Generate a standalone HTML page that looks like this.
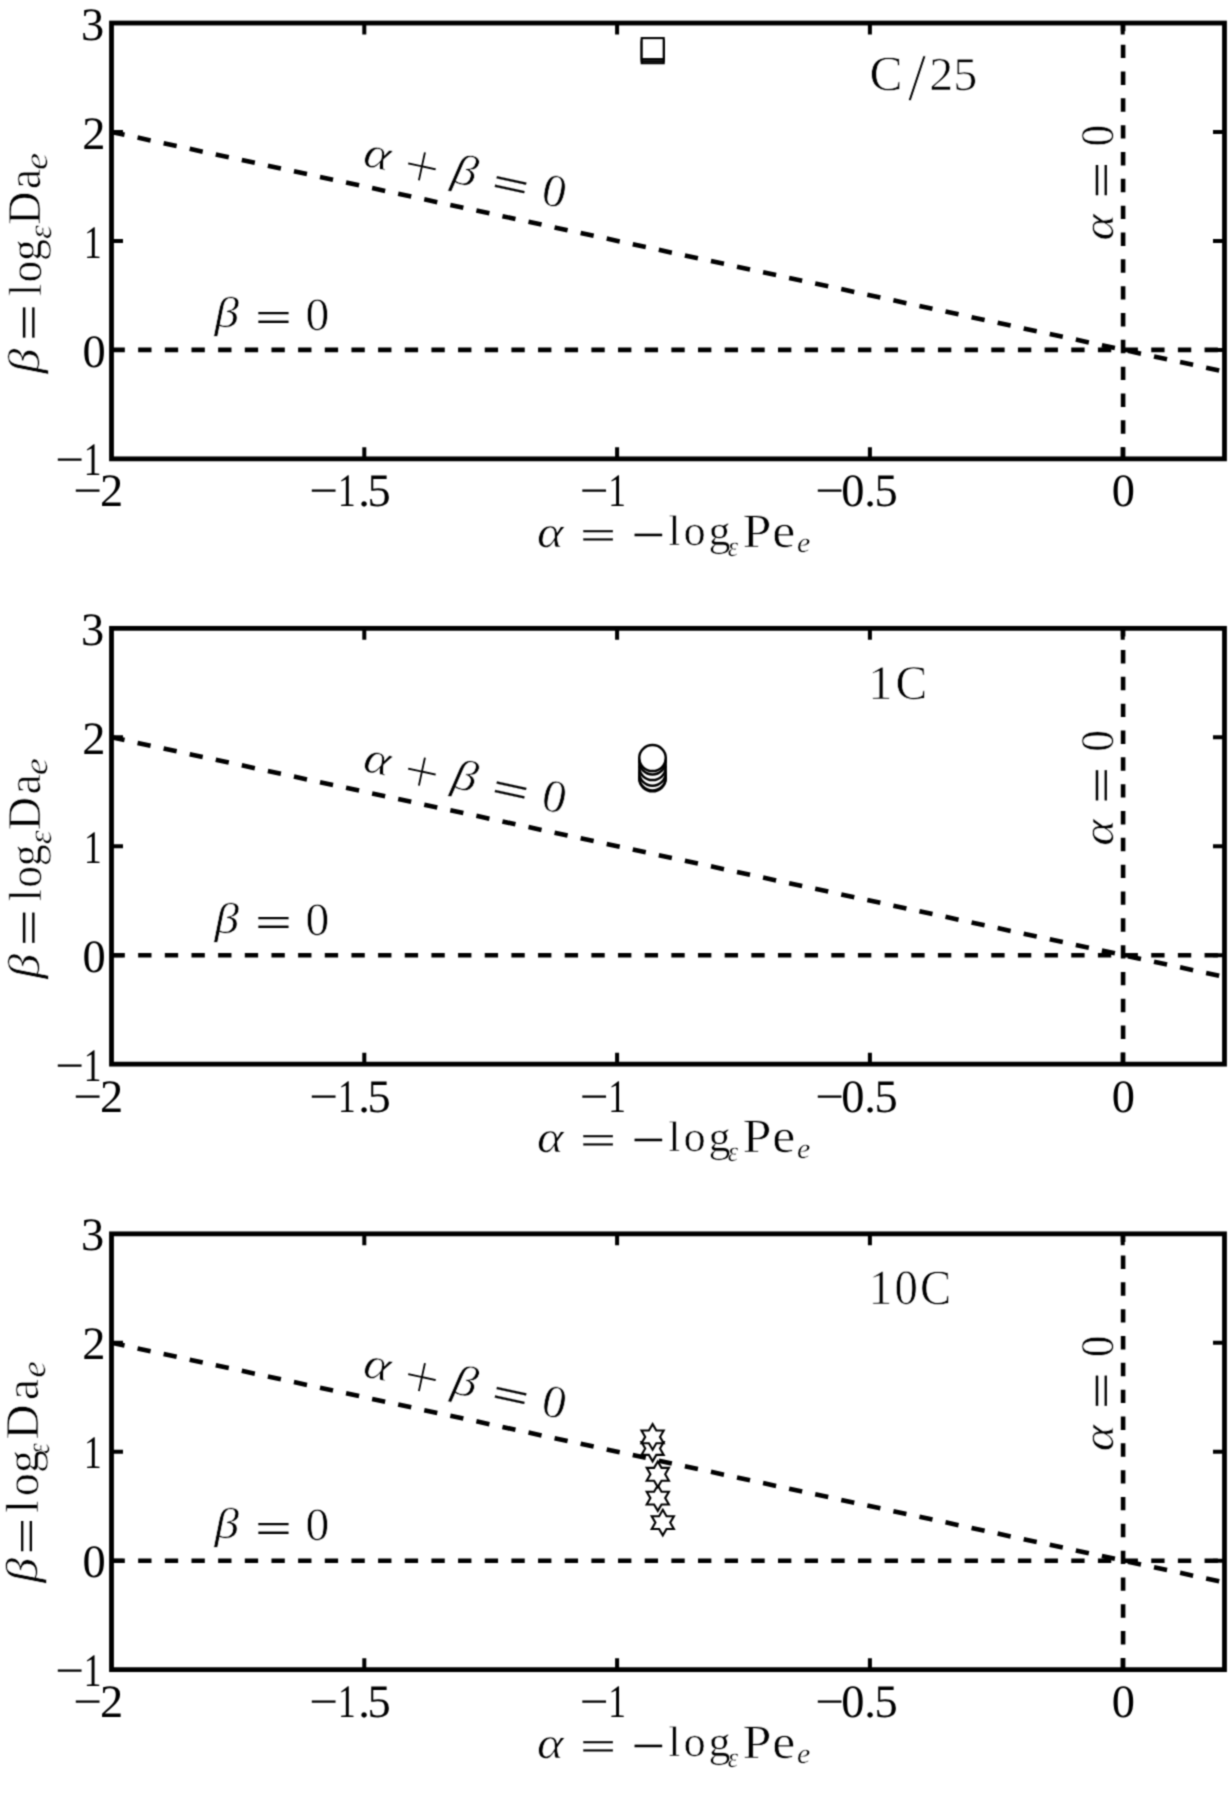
<!DOCTYPE html>
<html lang="en"><head><meta charset="utf-8"><title>Figure</title>
<style>
html,body{margin:0;padding:0;background:#fff;}
body{width:1230px;height:1800px;overflow:hidden;}
svg{display:block;}
text{white-space:pre;text-rendering:geometricPrecision;}
.cm text.op{stroke:#000;stroke-width:0.15px;}
.cm text.pl{stroke-width:0.8px;}
.cm text{stroke:#fff;stroke-width:0.55px;paint-order:fill stroke;vector-effect:non-scaling-stroke;}
</style></head><body>
<svg width="1230" height="1800" viewBox="0 0 1230 1800">
<defs><filter id="soft" x="0" y="0" width="1230" height="1800" filterUnits="userSpaceOnUse" color-interpolation-filters="sRGB"><feConvolveMatrix order="3" kernelMatrix="0.04 0.12 0.04 0.12 0.36 0.12 0.04 0.12 0.04" edgeMode="duplicate" preserveAlpha="true"/></filter></defs>
<g filter="url(#soft)">
<rect width="1230" height="1800" fill="#fff"/>
<g>
<g stroke="#000" stroke-width="4.6" fill="none" stroke-dasharray="13.33 13.33">
<path d="M111.5 349.9 H1224.5"/>
<path d="M111.5 132 L1224.5 371.63"/>
<path d="M1123.1 460.55 V23.05" stroke-dasharray="13.4 13.43"/>
</g>
<g stroke="#000" fill="#fff">
<rect x="641.7" y="42.2" width="22" height="21" stroke-width="2.1"/>
<rect x="641.7" y="40.2" width="22" height="21" stroke-width="2.1"/>
<rect x="641.7" y="38.1" width="22" height="21" stroke-width="2.1"/>
</g>
<g stroke="#000" fill="none">
<rect x="111.5" y="23.05" width="1113" height="435.8" stroke-width="4.8"/>
<path d="M364.3 458.85v-11.5M364.3 23.05v11.5M617.1 458.85v-11.5M617.1 23.05v11.5M869.9 458.85v-11.5M869.9 23.05v11.5M1122.7 458.85v-11.5M1122.7 23.05v11.5M111.5 132h11.5M1224.5 132h-11.5M111.5 240.95h11.5M1224.5 240.95h-11.5M111.5 349.9h11.5M1224.5 349.9h-11.5" stroke-width="4"/>
</g>
<g font-family="Liberation Serif, DejaVu Serif, serif" font-size="40" fill="#000">
<text transform="matrix(1.16 0 0 1.16 80.9 39.65)">3</text>
<text transform="matrix(1.16 0 0 1.16 82.16 148.6)">2</text>
<text transform="matrix(1.16 0 0 1.16 83.93 257.55)"><tspan textLength="15.2" lengthAdjust="spacingAndGlyphs">1</tspan></text>
<text transform="matrix(1.16 0 0 1.16 82.38 366.5)">0</text>
<text transform="matrix(1.16 0 0 1.16 55.25 475.45)" x="0 24.67"><tspan textLength="24.82" lengthAdjust="spacingAndGlyphs">−</tspan><tspan textLength="15.2" lengthAdjust="spacingAndGlyphs">1</tspan></text>
<text transform="matrix(1.16 0 0 1.16 73.35 506.25)" x="0 22.89"><tspan textLength="24.82" lengthAdjust="spacingAndGlyphs">−</tspan>2</text>
<text transform="matrix(1.16 0 0 1.16 309.15 506.25)" x="0 24.8 42.35 50.42"><tspan textLength="24.82" lengthAdjust="spacingAndGlyphs">−</tspan><tspan textLength="15.2" lengthAdjust="spacingAndGlyphs">1</tspan>.5</text>
<text transform="matrix(1.16 0 0 1.16 579.7 506.25)" x="0 24.54"><tspan textLength="24.82" lengthAdjust="spacingAndGlyphs">−</tspan><tspan textLength="15.2" lengthAdjust="spacingAndGlyphs">1</tspan></text>
<text transform="matrix(1.16 0 0 1.16 815.15 506.25)" x="0 22.56 42.35 51.28"><tspan textLength="24.82" lengthAdjust="spacingAndGlyphs">−</tspan>0.5</text>
<text transform="matrix(1.16 0 0 1.16 1111.78 506.25)">0</text>
<g class="cm">
<text transform="matrix(1.27 0 0 1.11 536.97 547.05)" font-style="italic">α</text>
<text transform="matrix(1.58 0 0 1.03 580.15 548.85)" class="op">=</text>
<text transform="matrix(1.47 0 0 1.2 631.76 551.16)" class="op">−</text>
<text transform="matrix(1.11 0 0 1.07 668.14 545.39)" x="0 13.76 36.4">log</text>
<text transform="matrix(0.66 0 0 0.71 727.71 555.72)" font-style="italic">ε</text>
<text transform="matrix(1.3 0 0 1.2 742.5 547.02)" x="0 22.85">Pe</text>
<text transform="matrix(0.75 0 0 0.71 797.01 552.41)" font-style="italic">e</text>
<text transform="matrix(0 -0.97 0.83 0 47.37 170.06)" font-style="italic">e</text>
<text transform="matrix(0 -1.15 1.18 0 39.63 224.83)" x="0 30.93">Da</text>
<text transform="matrix(0 -0.88 0.82 0 50.97 238.99)" font-style="italic">ε</text>
<text transform="matrix(0 -1.09 1.16 0 40.61 295.95)" x="0 12.42 32.04">log</text>
<text transform="matrix(0 -1.61 1.15 0 43.64 340.63)" class="op">=</text>
<text transform="matrix(0 -1.25 1.11 0 38.55 373.45)" font-style="italic">β</text>
<text transform="matrix(1.23 0 0 1.08 214.44 327.41)" font-style="italic">β</text>
<text transform="matrix(1.61 0 0 1.09 255.27 332.05)" class="op">=</text>
<text transform="matrix(1.19 0 0 1.16 305.52 329.64)">0</text>
<text transform="matrix(0 -1.08 1.17 0 1113.13 146.51)">0</text>
<text transform="matrix(0 -1.61 1.1 0 1116.03 198.22)" class="op">=</text>
<text transform="matrix(0 -1.26 1.09 0 1113.16 240.51)" font-style="italic">α</text>
<g transform="translate(464.2 174) rotate(12.15)">
<text transform="matrix(1.27 0 0 1.11 -101.93 12.9)" font-style="italic">α</text>
<text transform="matrix(1.58 0 0 1.61 -60.76 22.85)" class="pl">+</text>
<text transform="matrix(1.23 0 0 1.08 -11.91 10.66)" font-style="italic">β</text>
<text transform="matrix(1.61 0 0 1.09 29.47 15.1)" class="op">=</text>
<text transform="matrix(1.19 0 0 1.16 80.12 13.04)">0</text>
</g>
<text transform="matrix(1.24 0 0 1.23 869.51 89.51)">C</text>
<text transform="matrix(1.63 0 0 1.68 907.9 99.83)">/</text>
<text transform="matrix(1.2 0 0 1.18 929.33 89.53)" x="0 19.85">25</text>
</g>
</g>
</g>
<g>
<g stroke="#000" stroke-width="4.6" fill="none" stroke-dasharray="13.33 13.33">
<path d="M111.5 955.2 H1224.5"/>
<path d="M111.5 737.3 L1224.5 976.93"/>
<path d="M1123.1 1065.85 V628.35" stroke-dasharray="13.4 13.43"/>
</g>
<g stroke="#000" fill="#fff">
<ellipse cx="652.5" cy="778.3" rx="13.25" ry="13" stroke-width="2.5"/>
<ellipse cx="652.5" cy="777.4" rx="13.25" ry="13" stroke-width="2.5"/>
<ellipse cx="652.5" cy="772.7" rx="13.25" ry="13" stroke-width="2.5"/>
<ellipse cx="652.5" cy="767.1" rx="13.25" ry="13" stroke-width="2.5"/>
<ellipse cx="652.5" cy="761.5" rx="13.25" ry="13" stroke-width="2.5"/>
<ellipse cx="652.5" cy="758.1" rx="13.25" ry="13" stroke-width="2.5"/>
</g>
<g stroke="#000" fill="none">
<rect x="111.5" y="628.35" width="1113" height="435.8" stroke-width="4.8"/>
<path d="M364.3 1064.15v-11.5M364.3 628.35v11.5M617.1 1064.15v-11.5M617.1 628.35v11.5M869.9 1064.15v-11.5M869.9 628.35v11.5M1122.7 1064.15v-11.5M1122.7 628.35v11.5M111.5 737.3h11.5M1224.5 737.3h-11.5M111.5 846.25h11.5M1224.5 846.25h-11.5M111.5 955.2h11.5M1224.5 955.2h-11.5" stroke-width="4"/>
</g>
<g font-family="Liberation Serif, DejaVu Serif, serif" font-size="40" fill="#000">
<text transform="matrix(1.16 0 0 1.16 80.9 644.95)">3</text>
<text transform="matrix(1.16 0 0 1.16 82.16 753.9)">2</text>
<text transform="matrix(1.16 0 0 1.16 83.93 862.85)"><tspan textLength="15.2" lengthAdjust="spacingAndGlyphs">1</tspan></text>
<text transform="matrix(1.16 0 0 1.16 82.38 971.8)">0</text>
<text transform="matrix(1.16 0 0 1.16 55.25 1080.75)" x="0 24.67"><tspan textLength="24.82" lengthAdjust="spacingAndGlyphs">−</tspan><tspan textLength="15.2" lengthAdjust="spacingAndGlyphs">1</tspan></text>
<text transform="matrix(1.16 0 0 1.16 73.35 1111.55)" x="0 22.89"><tspan textLength="24.82" lengthAdjust="spacingAndGlyphs">−</tspan>2</text>
<text transform="matrix(1.16 0 0 1.16 309.15 1111.55)" x="0 24.8 42.35 50.42"><tspan textLength="24.82" lengthAdjust="spacingAndGlyphs">−</tspan><tspan textLength="15.2" lengthAdjust="spacingAndGlyphs">1</tspan>.5</text>
<text transform="matrix(1.16 0 0 1.16 579.7 1111.55)" x="0 24.54"><tspan textLength="24.82" lengthAdjust="spacingAndGlyphs">−</tspan><tspan textLength="15.2" lengthAdjust="spacingAndGlyphs">1</tspan></text>
<text transform="matrix(1.16 0 0 1.16 815.15 1111.55)" x="0 22.56 42.35 51.28"><tspan textLength="24.82" lengthAdjust="spacingAndGlyphs">−</tspan>0.5</text>
<text transform="matrix(1.16 0 0 1.16 1111.78 1111.55)">0</text>
<g class="cm">
<text transform="matrix(1.27 0 0 1.11 536.97 1152.35)" font-style="italic">α</text>
<text transform="matrix(1.58 0 0 1.03 580.15 1154.15)" class="op">=</text>
<text transform="matrix(1.47 0 0 1.2 631.76 1156.46)" class="op">−</text>
<text transform="matrix(1.11 0 0 1.07 668.14 1150.69)" x="0 13.76 36.4">log</text>
<text transform="matrix(0.66 0 0 0.71 727.71 1161.02)" font-style="italic">ε</text>
<text transform="matrix(1.3 0 0 1.2 742.5 1152.32)" x="0 22.85">Pe</text>
<text transform="matrix(0.75 0 0 0.71 797.01 1157.71)" font-style="italic">e</text>
<text transform="matrix(0 -0.97 0.83 0 47.37 775.36)" font-style="italic">e</text>
<text transform="matrix(0 -1.15 1.18 0 39.63 830.13)" x="0 30.93">Da</text>
<text transform="matrix(0 -0.88 0.82 0 50.97 844.29)" font-style="italic">ε</text>
<text transform="matrix(0 -1.09 1.16 0 40.61 901.25)" x="0 12.42 32.04">log</text>
<text transform="matrix(0 -1.61 1.15 0 43.64 945.93)" class="op">=</text>
<text transform="matrix(0 -1.25 1.11 0 38.55 978.75)" font-style="italic">β</text>
<text transform="matrix(1.23 0 0 1.08 214.44 932.71)" font-style="italic">β</text>
<text transform="matrix(1.61 0 0 1.09 255.27 937.35)" class="op">=</text>
<text transform="matrix(1.19 0 0 1.16 305.52 934.94)">0</text>
<text transform="matrix(0 -1.08 1.17 0 1113.13 751.81)">0</text>
<text transform="matrix(0 -1.61 1.1 0 1116.03 803.52)" class="op">=</text>
<text transform="matrix(0 -1.26 1.09 0 1113.16 845.81)" font-style="italic">α</text>
<g transform="translate(464.2 779.3) rotate(12.15)">
<text transform="matrix(1.27 0 0 1.11 -101.93 12.9)" font-style="italic">α</text>
<text transform="matrix(1.58 0 0 1.61 -60.76 22.85)" class="pl">+</text>
<text transform="matrix(1.23 0 0 1.08 -11.91 10.66)" font-style="italic">β</text>
<text transform="matrix(1.61 0 0 1.09 29.47 15.1)" class="op">=</text>
<text transform="matrix(1.19 0 0 1.16 80.12 13.04)">0</text>
</g>
<text transform="matrix(1.19 0 0 1.21 868.6 698.52)" x="0 22.53">1C</text>
</g>
</g>
</g>
<g>
<g stroke="#000" stroke-width="4.6" fill="none" stroke-dasharray="13.33 13.33">
<path d="M111.5 1560.7 H1224.5"/>
<path d="M111.5 1342.8 L1224.5 1582.43"/>
<path d="M1123.1 1671.35 V1233.85" stroke-dasharray="13.4 13.43"/>
</g>
<g stroke="#000" fill="#fff">
<polygon points="662.8,1509.8 666.5,1516.2 673.89,1516.2 670.19,1522.6 673.89,1529 666.5,1529 662.8,1535.4 659.1,1529 651.71,1529 655.41,1522.6 651.71,1516.2 659.1,1516.2" stroke-width="2.1"/>
<polygon points="657.8,1485.3 661.5,1491.7 668.89,1491.7 665.19,1498.1 668.89,1504.5 661.5,1504.5 657.8,1510.9 654.1,1504.5 646.71,1504.5 650.41,1498.1 646.71,1491.7 654.1,1491.7" stroke-width="2.1"/>
<polygon points="657.8,1461.5 661.5,1467.9 668.89,1467.9 665.19,1474.3 668.89,1480.7 661.5,1480.7 657.8,1487.1 654.1,1480.7 646.71,1480.7 650.41,1474.3 646.71,1467.9 654.1,1467.9" stroke-width="2.1"/>
<polygon points="652.6,1435.7 656.3,1442.1 663.69,1442.1 659.99,1448.5 663.69,1454.9 656.3,1454.9 652.6,1461.3 648.9,1454.9 641.51,1454.9 645.21,1448.5 641.51,1442.1 648.9,1442.1" stroke-width="2.1"/>
<polygon points="652.6,1424.1 656.3,1430.5 663.69,1430.5 659.99,1436.9 663.69,1443.3 656.3,1443.3 652.6,1449.7 648.9,1443.3 641.51,1443.3 645.21,1436.9 641.51,1430.5 648.9,1430.5" stroke-width="2.1"/>
</g>
<g stroke="#000" fill="none">
<rect x="111.5" y="1233.85" width="1113" height="435.8" stroke-width="4.8"/>
<path d="M364.3 1669.65v-11.5M364.3 1233.85v11.5M617.1 1669.65v-11.5M617.1 1233.85v11.5M869.9 1669.65v-11.5M869.9 1233.85v11.5M1122.7 1669.65v-11.5M1122.7 1233.85v11.5M111.5 1342.8h11.5M1224.5 1342.8h-11.5M111.5 1451.75h11.5M1224.5 1451.75h-11.5M111.5 1560.7h11.5M1224.5 1560.7h-11.5" stroke-width="4"/>
</g>
<g font-family="Liberation Serif, DejaVu Serif, serif" font-size="40" fill="#000">
<text transform="matrix(1.16 0 0 1.16 80.9 1250.45)">3</text>
<text transform="matrix(1.16 0 0 1.16 82.16 1359.4)">2</text>
<text transform="matrix(1.16 0 0 1.16 83.93 1468.35)"><tspan textLength="15.2" lengthAdjust="spacingAndGlyphs">1</tspan></text>
<text transform="matrix(1.16 0 0 1.16 82.38 1577.3)">0</text>
<text transform="matrix(1.16 0 0 1.16 55.25 1686.25)" x="0 24.67"><tspan textLength="24.82" lengthAdjust="spacingAndGlyphs">−</tspan><tspan textLength="15.2" lengthAdjust="spacingAndGlyphs">1</tspan></text>
<text transform="matrix(1.16 0 0 1.16 73.35 1717.05)" x="0 22.89"><tspan textLength="24.82" lengthAdjust="spacingAndGlyphs">−</tspan>2</text>
<text transform="matrix(1.16 0 0 1.16 309.15 1717.05)" x="0 24.8 42.35 50.42"><tspan textLength="24.82" lengthAdjust="spacingAndGlyphs">−</tspan><tspan textLength="15.2" lengthAdjust="spacingAndGlyphs">1</tspan>.5</text>
<text transform="matrix(1.16 0 0 1.16 579.7 1717.05)" x="0 24.54"><tspan textLength="24.82" lengthAdjust="spacingAndGlyphs">−</tspan><tspan textLength="15.2" lengthAdjust="spacingAndGlyphs">1</tspan></text>
<text transform="matrix(1.16 0 0 1.16 815.15 1717.05)" x="0 22.56 42.35 51.28"><tspan textLength="24.82" lengthAdjust="spacingAndGlyphs">−</tspan>0.5</text>
<text transform="matrix(1.16 0 0 1.16 1111.78 1717.05)">0</text>
<g class="cm">
<text transform="matrix(1.27 0 0 1.11 536.97 1757.85)" font-style="italic">α</text>
<text transform="matrix(1.58 0 0 1.03 580.15 1759.65)" class="op">=</text>
<text transform="matrix(1.47 0 0 1.2 631.76 1761.96)" class="op">−</text>
<text transform="matrix(1.11 0 0 1.07 668.14 1756.19)" x="0 13.76 36.4">log</text>
<text transform="matrix(0.66 0 0 0.71 727.71 1766.52)" font-style="italic">ε</text>
<text transform="matrix(1.3 0 0 1.2 742.5 1757.82)" x="0 22.85">Pe</text>
<text transform="matrix(0.75 0 0 0.71 797.01 1763.21)" font-style="italic">e</text>
<text transform="matrix(0 -0.94 0.86 0 44.75 1377.83)" font-style="italic">e</text>
<text transform="matrix(0 -1.21 1.18 0 37.83 1439.56)" x="0 32.49">Da</text>
<text transform="matrix(0 -0.68 0.82 0 49.47 1453.91)" font-style="italic">ε</text>
<text transform="matrix(0 -1.15 1.16 0 38.41 1512.96)" x="0 14.43 34.73">log</text>
<text transform="matrix(0 -1.61 1.09 0 40.85 1554.23)" class="op">=</text>
<text transform="matrix(0 -1.25 1.12 0 36.68 1582.75)" font-style="italic">β</text>
<text transform="matrix(1.23 0 0 1.08 214.44 1538.21)" font-style="italic">β</text>
<text transform="matrix(1.61 0 0 1.09 255.27 1542.85)" class="op">=</text>
<text transform="matrix(1.19 0 0 1.16 305.52 1540.44)">0</text>
<text transform="matrix(0 -1.08 1.17 0 1113.13 1357.31)">0</text>
<text transform="matrix(0 -1.61 1.1 0 1116.03 1409.02)" class="op">=</text>
<text transform="matrix(0 -1.26 1.09 0 1113.16 1451.31)" font-style="italic">α</text>
<g transform="translate(464.2 1384.8) rotate(12.15)">
<text transform="matrix(1.27 0 0 1.11 -101.93 12.9)" font-style="italic">α</text>
<text transform="matrix(1.58 0 0 1.61 -60.76 22.85)" class="pl">+</text>
<text transform="matrix(1.23 0 0 1.08 -11.91 10.66)" font-style="italic">β</text>
<text transform="matrix(1.61 0 0 1.09 29.47 15.1)" class="op">=</text>
<text transform="matrix(1.19 0 0 1.16 80.12 13.04)">0</text>
</g>
<text transform="matrix(1.17 0 0 1.23 868.87 1303.51)" x="0 21.99 43.71">10C</text>
</g>
</g>
</g>
</g>
</svg>
</body></html>
